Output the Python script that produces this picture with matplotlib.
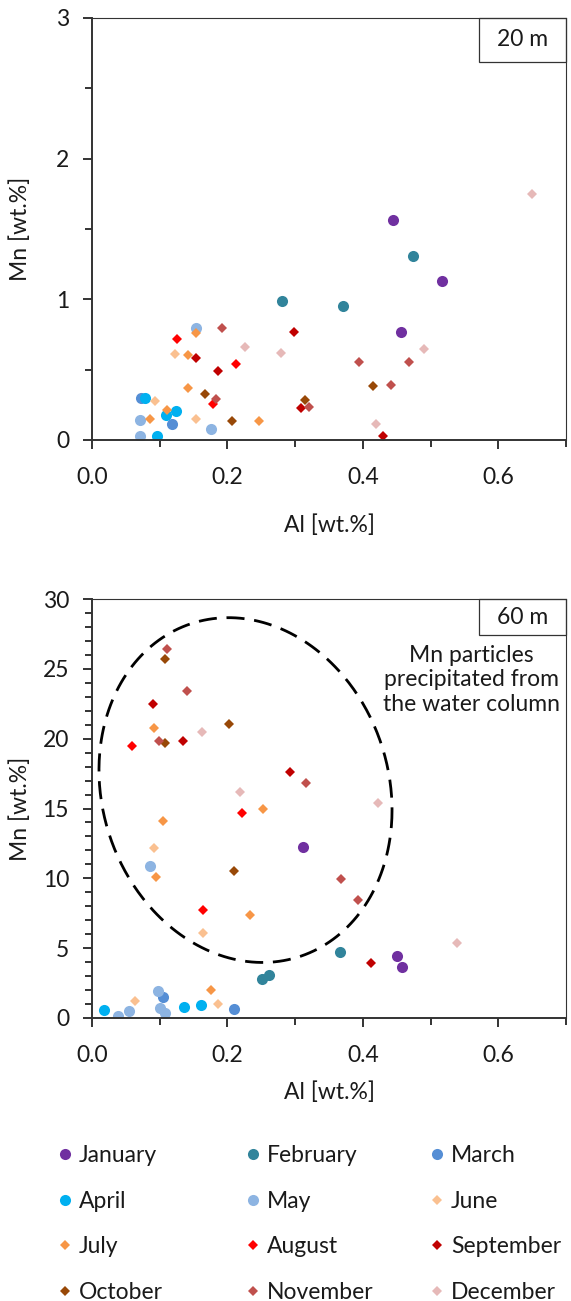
import numpy as np
import matplotlib
matplotlib.use("Agg")
import matplotlib.pyplot as plt
from matplotlib.ticker import MultipleLocator, FormatStrFormatter
from matplotlib.patches import Rectangle

plt.rcParams['font.family'] = ['Lato', 'DejaVu Sans']

months = ["January", "February", "March", "April", "May", "June",
          "July", "August", "September", "October", "November", "December"]
colors = ["#7030A0", "#31849B", "#558ED5", "#00B0F0", "#8DB4E2", "#FAC090",
          "#F79646", "#FF0000", "#C00000", "#984807", "#C0504D", "#E6B9B8"]
markers = ["o", "o", "o", "o", "o", "D", "D", "D", "D", "D", "D", "D"]

# ---- 20 m ----
al20_jan = [0.445, 0.517, 0.456]; mn20_jan = [1.564, 1.132, 0.768]
al20_feb = [0.474, 0.281, 0.371]; mn20_feb = [1.308, 0.986, 0.950]
al20_mar = [0.072, 0.118]; mn20_mar = [0.301, 0.114]
al20_apr = [0.079, 0.124, 0.109, 0.096]; mn20_apr = [0.296, 0.208, 0.175, 0.031]
al20_may = [0.153, 0.176, 0.071, 0.071]; mn20_may = [0.798, 0.078, 0.140, 0.031]
al20_jun = [0.123, 0.093, 0.154]; mn20_jun = [0.609, 0.280, 0.149]
al20_jul = [0.153, 0.142, 0.142, 0.111, 0.085, 0.246]; mn20_jul = [0.758, 0.604, 0.367, 0.213, 0.152, 0.135]
al20_aug = [0.126, 0.212, 0.179]; mn20_aug = [0.716, 0.540, 0.254]
al20_sep = [0.298, 0.153, 0.186, 0.308, 0.430]; mn20_sep = [0.768, 0.585, 0.490, 0.230, 0.028]
al20_oct = [0.167, 0.314, 0.415, 0.207]; mn20_oct = [0.329, 0.284, 0.384, 0.135]
al20_nov = [0.192, 0.183, 0.395, 0.468, 0.441, 0.321]; mn20_nov = [0.798, 0.294, 0.552, 0.552, 0.391, 0.237]
al20_dec = [0.650, 0.279, 0.490, 0.226, 0.419]; mn20_dec = [1.746, 0.618, 0.644, 0.661, 0.111]

# ---- 60 m ----
al60_jan = [0.312, 0.450, 0.458]; mn60_jan = [12.26, 4.46, 3.67]
al60_feb = [0.366, 0.251, 0.262]; mn60_feb = [4.72, 2.79, 3.10]
al60_mar = [0.105, 0.209]; mn60_mar = [1.50, 0.67]
al60_apr = [0.017, 0.136, 0.161]; mn60_apr = [0.55, 0.76, 0.90]
al60_may = [0.085, 0.098, 0.039, 0.055, 0.100, 0.108]; mn60_may = [10.86, 1.96, 0.14, 0.50, 0.69, 0.36]
al60_jun = [0.091, 0.164, 0.064, 0.186]; mn60_jun = [12.19, 6.06, 1.22, 0.98]
al60_jul = [0.092, 0.252, 0.105, 0.095, 0.234, 0.176]; mn60_jul = [20.78, 14.96, 14.12, 10.09, 7.37, 1.98]
al60_aug = [0.059, 0.222, 0.164]; mn60_aug = [19.45, 14.65, 7.73]
al60_sep = [0.090, 0.135, 0.293, 0.412]; mn60_sep = [22.48, 19.81, 17.63, 3.96]
al60_oct = [0.108, 0.202, 0.108, 0.210]; mn60_oct = [25.70, 21.05, 19.66, 10.54]
al60_nov = [0.111, 0.140, 0.099, 0.316, 0.367, 0.393]; mn60_nov = [26.41, 23.43, 19.81, 16.85, 9.97, 8.47]
al60_dec = [0.162, 0.219, 0.423, 0.539]; mn60_dec = [20.50, 16.16, 15.41, 5.39]

data20 = [(al20_jan, mn20_jan), (al20_feb, mn20_feb), (al20_mar, mn20_mar), (al20_apr, mn20_apr),
          (al20_may, mn20_may), (al20_jun, mn20_jun), (al20_jul, mn20_jul), (al20_aug, mn20_aug),
          (al20_sep, mn20_sep), (al20_oct, mn20_oct), (al20_nov, mn20_nov), (al20_dec, mn20_dec)]
data60 = [(al60_jan, mn60_jan), (al60_feb, mn60_feb), (al60_mar, mn60_mar), (al60_apr, mn60_apr),
          (al60_may, mn60_may), (al60_jun, mn60_jun), (al60_jul, mn60_jul), (al60_aug, mn60_aug),
          (al60_sep, mn60_sep), (al60_oct, mn60_oct), (al60_nov, mn60_nov), (al60_dec, mn60_dec)]

TXT = "#1a1a1a"
FS = 16.5
W, H = 571, 1301
fig = plt.figure(figsize=(W / 100, H / 100), dpi=100)

def px_axes(l, r, t, b):
    return fig.add_axes([l / W, 1 - b / H, (r - l) / W, (b - t) / H])

ax1 = px_axes(92, 566, 18, 440)
ax2 = px_axes(92, 566, 599, 1018)

def msize(m):
    return 8.0 if m == "o" else 5.0

def style(ax, ymax, ymaj, ymin, label_y):
    ax.set_xlim(0, 0.7)
    ax.set_ylim(0, ymax)
    ax.xaxis.set_major_locator(MultipleLocator(0.2))
    ax.xaxis.set_minor_locator(MultipleLocator(0.1))
    ax.yaxis.set_major_locator(MultipleLocator(ymaj))
    ax.yaxis.set_minor_locator(MultipleLocator(ymin))
    ax.xaxis.set_major_formatter(FormatStrFormatter("%.1f"))
    ax.yaxis.set_major_formatter(FormatStrFormatter("%d"))
    for s in ["left", "bottom"]:
        ax.spines[s].set_linewidth(1.4)
        ax.spines[s].set_color("#333333")
    for s in ["top", "right"]:
        ax.spines[s].set_linewidth(0.8)
        ax.spines[s].set_color("#333333")
    ax.tick_params(which="major", direction="out", length=6.5, width=1.4, color="#333333",
                   labelsize=FS, labelcolor=TXT)
    ax.tick_params(axis="y", which="major", pad=10)
    ax.tick_params(axis="x", which="major", pad=13)
    ax.tick_params(which="minor", direction="out", length=5, width=1.4, color="#333333")
    ax.set_xlabel("Al [wt.%]", fontsize=FS, color=TXT)
    ax.set_ylabel("Mn [wt.%]", fontsize=FS, color=TXT)
    ax.xaxis.label.set_va("center")
    ax.yaxis.label.set_va("center")
    ax.yaxis.set_label_coords(-0.152, 0.5)
    ax.xaxis.set_label_coords(0.5, label_y)

handles = {}
for ax, data in [(ax1, data20), (ax2, data60)]:
    for i, (xs, ys) in enumerate(data):
        h, = ax.plot(xs, ys, linestyle="none", marker=markers[i], ms=msize(markers[i]),
                     mfc=colors[i], mec="none", mew=0, color=colors[i], label=months[i])
        handles[months[i]] = h

style(ax1, 3, 1, 0.5, -0.201)
style(ax2, 30, 5, 1, -0.177)

# depth boxes
def depth_box(ax, y0, text):
    ax.add_patch(Rectangle((0.8165, y0), 1 - 0.8165, 1 - y0, transform=ax.transAxes,
                           fill=False, lw=0.9, ec="#333333", clip_on=False))
    ax.text((0.8165 + 1) / 2, (y0 + 1) / 2, text, transform=ax.transAxes,
            ha="center", va="center", fontsize=FS, color=TXT)

depth_box(ax1, 0.896, "20 m")
depth_box(ax2, 0.914, "60 m")

# dashed ellipse outlining the precipitated-particle group
t = np.linspace(0, 2 * np.pi, 400)
e_al = 0.2267 + 0.2164 * np.cos(t)
e_mn = 16.32 - 1.43 * np.cos(t) - 12.26 * np.sin(t)
ax2.plot(e_al, e_mn, color="black", lw=2.0, dashes=(6.5, 3.5))

ax2.text(0.800, 0.807, "Mn particles\nprecipitated from\nthe water column",
         transform=ax2.transAxes, ha="center", va="center", fontsize=FS, color=TXT,
         linespacing=1.2)

# legend: three columns
cols = [[0, 3, 6, 9], [1, 4, 7, 10], [2, 5, 8, 11]]
col_x = [65, 253, 437]
hl = 0.6
for c, idxs in zip(col_x, cols):
    hs = [handles[months[i]] for i in idxs]
    lb = [months[i] for i in idxs]
    fig.legend(hs, lb, loc="upper left",
               bbox_to_anchor=((c - hl * FS * 100 / 72 / 2) / W, 1 - 1145 / H),
               frameon=False, fontsize=FS, handlelength=hl, handletextpad=0.3,
               borderpad=0, borderaxespad=0, labelspacing=1.07, labelcolor=TXT)

fig.savefig("out.png", dpi=100)
